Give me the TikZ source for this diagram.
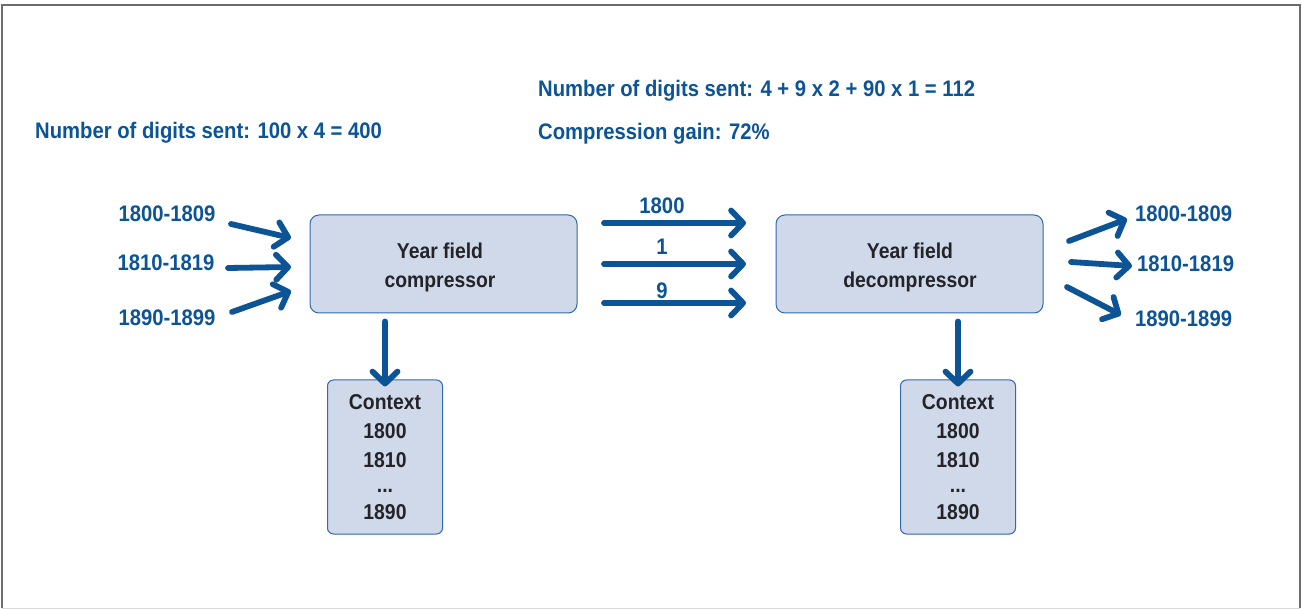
\documentclass[tikz,border=0pt]{standalone}
\usepackage{fontspec}
\setmainfont{Liberation Sans}[FakeStretch=0.9]
\usetikzlibrary{arrows.meta}
\definecolor{mblue}{RGB}{12,84,150}
\definecolor{boxfill}{RGB}{208,217,234}
\definecolor{boxline}{RGB}{50,105,170}
\definecolor{txt}{RGB}{35,35,40}
\begin{document}
\begin{tikzpicture}[x=1pt,y=-1pt,
  lbl/.style={text=mblue,font=\bfseries\fontsize{22.5}{26}\selectfont,inner sep=0pt},
  hdr/.style={text=mblue,font=\bfseries\fontsize{22.5}{26}\selectfont,inner sep=0pt,anchor=west},
  procbox/.style={draw=boxline,line width=1pt,fill=boxfill,rounded corners=9pt,
     minimum width=267pt,minimum height=98pt,inner sep=0pt},
  boxtext/.style={text=txt,font=\bfseries\fontsize{21.5}{29}\selectfont,align=center,inner sep=0pt},
  ctxbox/.style={draw=boxline,line width=1pt,fill=boxfill,rounded corners=6pt,
     minimum width=115pt,minimum height=154pt,inner sep=0pt,text=txt,
     font=\bfseries\fontsize{21.5}{29}\selectfont,align=center},
  flow/.style={draw=mblue,line width=5.8pt,line cap=round,
     -{Straight Barb[length=12pt,width=25pt,line cap=round,line join=round]}},
]
\useasboundingbox (0,0) rectangle (1302,609);
\fill[white] (0,0) rectangle (1302,609);
% frame
\draw[gray!85!black,line width=1.2pt] (2,608) -- (2,5) -- (1300,5) -- (1300,608);
\draw[gray!30,line width=1pt] (2,608) -- (1300,608);

% headers
\node[hdr] (h1) at (35,133) {Number of digits sent: 100 x 4 = 400};
\node[hdr] (h2) at (538,91) {Number of digits sent: 4 + 9 x 2 + 90 x 1 = 112};
\node[hdr] (h3) at (538,134) {Compression gain: 72\%};

% boxes
\node[procbox] (comp) at (443.5,264) {};
\node[procbox] (decomp) at (909.5,264) {};
\node[boxtext] (compt) at (440,267) {Year field\\compressor};
\node[boxtext] (decompt) at (910,267) {Year field\\decompressor};
\node[ctxbox] (ctx1) at (385,457) {Context\\1800\\1810\\[-4pt]...\\[-2pt]1890};
\node[ctxbox] (ctx2) at (958,457) {Context\\1800\\1810\\[-4pt]...\\[-2pt]1890};

% left labels
\node[lbl] (l1) at (167,214) {1800-1809};
\node[lbl] (l2) at (166,263) {1810-1819};
\node[lbl] (l3) at (167,318) {1890-1899};
% right labels
\node[lbl,anchor=west] (r1) at (1135,214) {1800-1809};
\node[lbl,anchor=west] (r2) at (1137,264) {1810-1819};
\node[lbl,anchor=west] (r3) at (1135,319) {1890-1899};
% middle labels
\node[lbl] (m1) at (662,206) {1800};
\node[lbl] (m2) at (662,247) {1};
\node[lbl] (m3) at (662,291) {9};

% arrow coordinates
\coordinate (a1s) at (231,224); \coordinate (a1e) at (291,238);
\coordinate (a2s) at (228,268); \coordinate (a2e) at (291,267);
\coordinate (a3s) at (232,312); \coordinate (a3e) at (291,291);
\coordinate (b1s) at (604,223); \coordinate (b1e) at (746,223);
\coordinate (b2s) at (604,264); \coordinate (b2e) at (746,264);
\coordinate (b3s) at (604,303); \coordinate (b3e) at (746,303);
\coordinate (c1s) at (1069,241); \coordinate (c1e) at (1127,219);
\coordinate (c2s) at (1071,262); \coordinate (c2e) at (1132,266);
\coordinate (c3s) at (1067,287); \coordinate (c3e) at (1121,315);

\draw[flow] (a1s) -- (a1e);
\draw[flow] (a2s) -- (a2e);
\draw[flow] (a3s) -- (a3e);
\draw[flow] (b1s) -- (b1e);
\draw[flow] (b2s) -- (b2e);
\draw[flow] (b3s) -- (b3e);
\draw[flow] (c1s) -- (c1e);
\draw[flow] (c2s) -- (c2e);
\draw[flow] (c3s) -- (c3e);
\draw[flow] ([yshift=-8pt]comp.south -| ctx1.north) -- ([yshift=-7pt]ctx1.north);
\draw[flow] ([yshift=-8pt]decomp.south -| ctx2.north) -- ([yshift=-7pt]ctx2.north);
\end{tikzpicture}
\end{document}
